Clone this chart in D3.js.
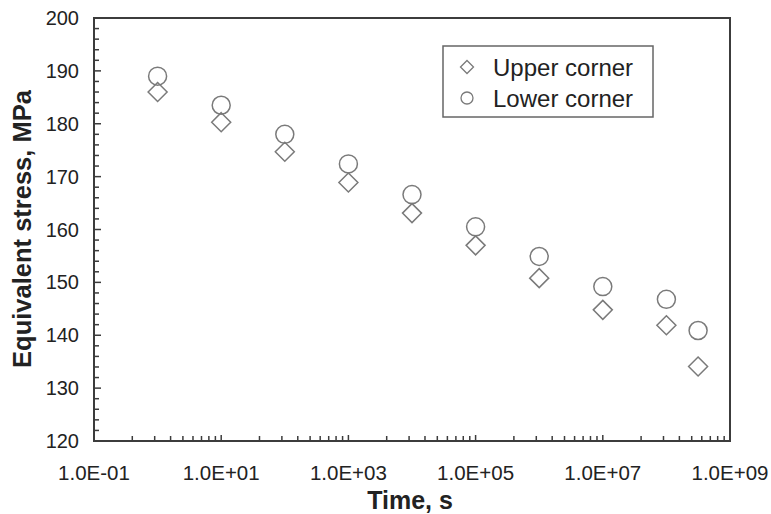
<!DOCTYPE html>
<html>
<head>
    <meta charset="utf-8" />
    <title></title>
    <style>
        body{
            margin:0;
            background:#fff;
        }
        text{
            font-family:"Liberation Sans", Arial, sans-serif;
            fill:#222;
        }
    </style>
</head>
<body>
    <div id="chart"></div>
    <script src="https://cdn.jsdelivr.net/npm/d3@7"></script>
    <script>
        // data
        var timeValues = [1, 10, 100, 1e3, 1e4, 1e5, 1e6, 1e7, 1e8, 3.15e8];
        var upperCorner = [186.0, 180.3, 174.7, 168.9, 163.1, 157.0, 150.8, 144.8, 141.9, 134.1];
        var lowerCorner = [189.0, 183.5, 178.0, 172.4, 166.6, 160.5, 154.9, 149.2, 146.8, 140.9];
        var xTickValues = [1e-1, 1e1, 1e3, 1e5, 1e7, 1e9];
        var xTickLabels = ["1.0E-01", "1.0E+01", "1.0E+03", "1.0E+05", "1.0E+07", "1.0E+09"];
        var yTickValues = [120, 130, 140, 150, 160, 170, 180, 190, 200];
        var seriesNames = ["Upper corner", "Lower corner"];

        var W = 771, H = 514;
        var margins = { left: 94, right: 41, top: 18, bottom: 73 };
        var width = W - margins.left - margins.right;
        var height = H - margins.top - margins.bottom;
        var axisColor = "#3c3c3c";
        var markColor = "#7a7a7a";

        var svg = d3.select("#chart")
            .append("svg")
            .attr("width", W)
            .attr("height", H);
        var g = svg.append("g")
            .attr("transform", "translate(" + margins.left + "," + margins.top + ")");

        var x = d3.scaleLog().domain([1e-1, 1e9]).range([0, width]);
        var y = d3.scaleLinear().domain([120, 200]).range([height, 0]);

        // minor ticks: excel style, major unit 100 so minors sit at k^2 inside each step
        var xMinor = [];
        xTickValues.slice(0, -1).forEach(function (m) {
            for (var k = 2; k <= 9; k++) xMinor.push(m * k * k);
        });
        var yMinor = d3.range(120, 200, 2);

        // frame
        g.append("rect")
            .attr("width", width)
            .attr("height", height)
            .attr("fill", "none")
            .attr("stroke", axisColor)
            .attr("stroke-width", 2);

        // x ticks (pointing up, inside)
        g.append("g")
            .selectAll("line.xminor")
            .data(xMinor)
            .join("line")
            .attr("x1", d => x(d)).attr("x2", d => x(d))
            .attr("y1", height).attr("y2", height - 5)
            .attr("stroke", axisColor).attr("stroke-width", 1.5);
        g.append("g")
            .selectAll("line.xmajor")
            .data(xTickValues)
            .join("line")
            .attr("x1", d => x(d)).attr("x2", d => x(d))
            .attr("y1", height).attr("y2", height - 6)
            .attr("stroke", axisColor).attr("stroke-width", 1.5);

        // y ticks (pointing right, inside)
        g.append("g")
            .selectAll("line")
            .data(yMinor)
            .join("line")
            .attr("x1", 0).attr("x2", d => d % 10 === 0 ? 7 : 5)
            .attr("y1", d => y(d)).attr("y2", d => y(d))
            .attr("stroke", axisColor).attr("stroke-width", 1.5);

        // tick labels
        g.append("g")
            .selectAll("text")
            .data(xTickValues)
            .join("text")
            .attr("x", d => x(d))
            .attr("y", height + 39)
            .attr("text-anchor", "middle")
            .style("font-size", "20.5px")
            .text((d, i) => xTickLabels[i]);
        g.append("g")
            .selectAll("text")
            .data(yTickValues)
            .join("text")
            .attr("x", -15)
            .attr("y", d => y(d))
            .attr("dy", "0.35em")
            .attr("text-anchor", "end")
            .style("font-size", "20px")
            .text(d => d);

        // axis titles
        svg.append("text")
            .attr("x", 410)
            .attr("y", 509)
            .attr("text-anchor", "middle")
            .style("font-size", "25px")
            .style("font-weight", "bold")
            .text("Time, s");
        svg.append("text")
            .attr("transform", "translate(31,229) rotate(-90)")
            .attr("text-anchor", "middle")
            .style("font-size", "25.5px")
            .style("font-weight", "bold")
            .text("Equivalent stress, MPa");

        function diamond(r) {
            return "M0," + (-r) + "L" + r + ",0L0," + r + "L" + (-r) + ",0Z";
        }

        // points
        g.append("g")
            .selectAll("path")
            .data(timeValues)
            .join("path")
            .attr("transform", (d, i) => "translate(" + x(d) + "," + y(upperCorner[i]) + ")")
            .attr("d", diamond(9.5))
            .attr("fill", "none")
            .attr("stroke", markColor)
            .attr("stroke-width", 1.5);
        g.append("g")
            .selectAll("circle")
            .data(timeValues)
            .join("circle")
            .attr("cx", d => x(d))
            .attr("cy", (d, i) => y(lowerCorner[i]))
            .attr("r", 9)
            .attr("fill", "none")
            .attr("stroke", markColor)
            .attr("stroke-width", 1.5);

        // legend
        var legend = svg.append("g").attr("transform", "translate(443,46)");
        legend.append("rect")
            .attr("width", 210)
            .attr("height", 71)
            .attr("fill", "#fff")
            .attr("stroke", "#666")
            .attr("stroke-width", 1.5);
        var items = legend.selectAll("g.item")
            .data(seriesNames)
            .join("g")
            .attr("class", "item")
            .attr("transform", (d, i) => "translate(24," + (21 + i * 31) + ")");
        items.append("path")
            .attr("d", (d, i) => i === 0 ? diamond(6.5) : "M6,0A6,6 0 1,1 -6,0A6,6 0 1,1 6,0Z")
            .attr("fill", "none")
            .attr("stroke", markColor)
            .attr("stroke-width", 1.3);
        items.append("text")
            .attr("x", 26)
            .attr("dy", "0.36em")
            .style("font-size", "24px")
            .text(d => d);
    </script>
</body>
</html>
